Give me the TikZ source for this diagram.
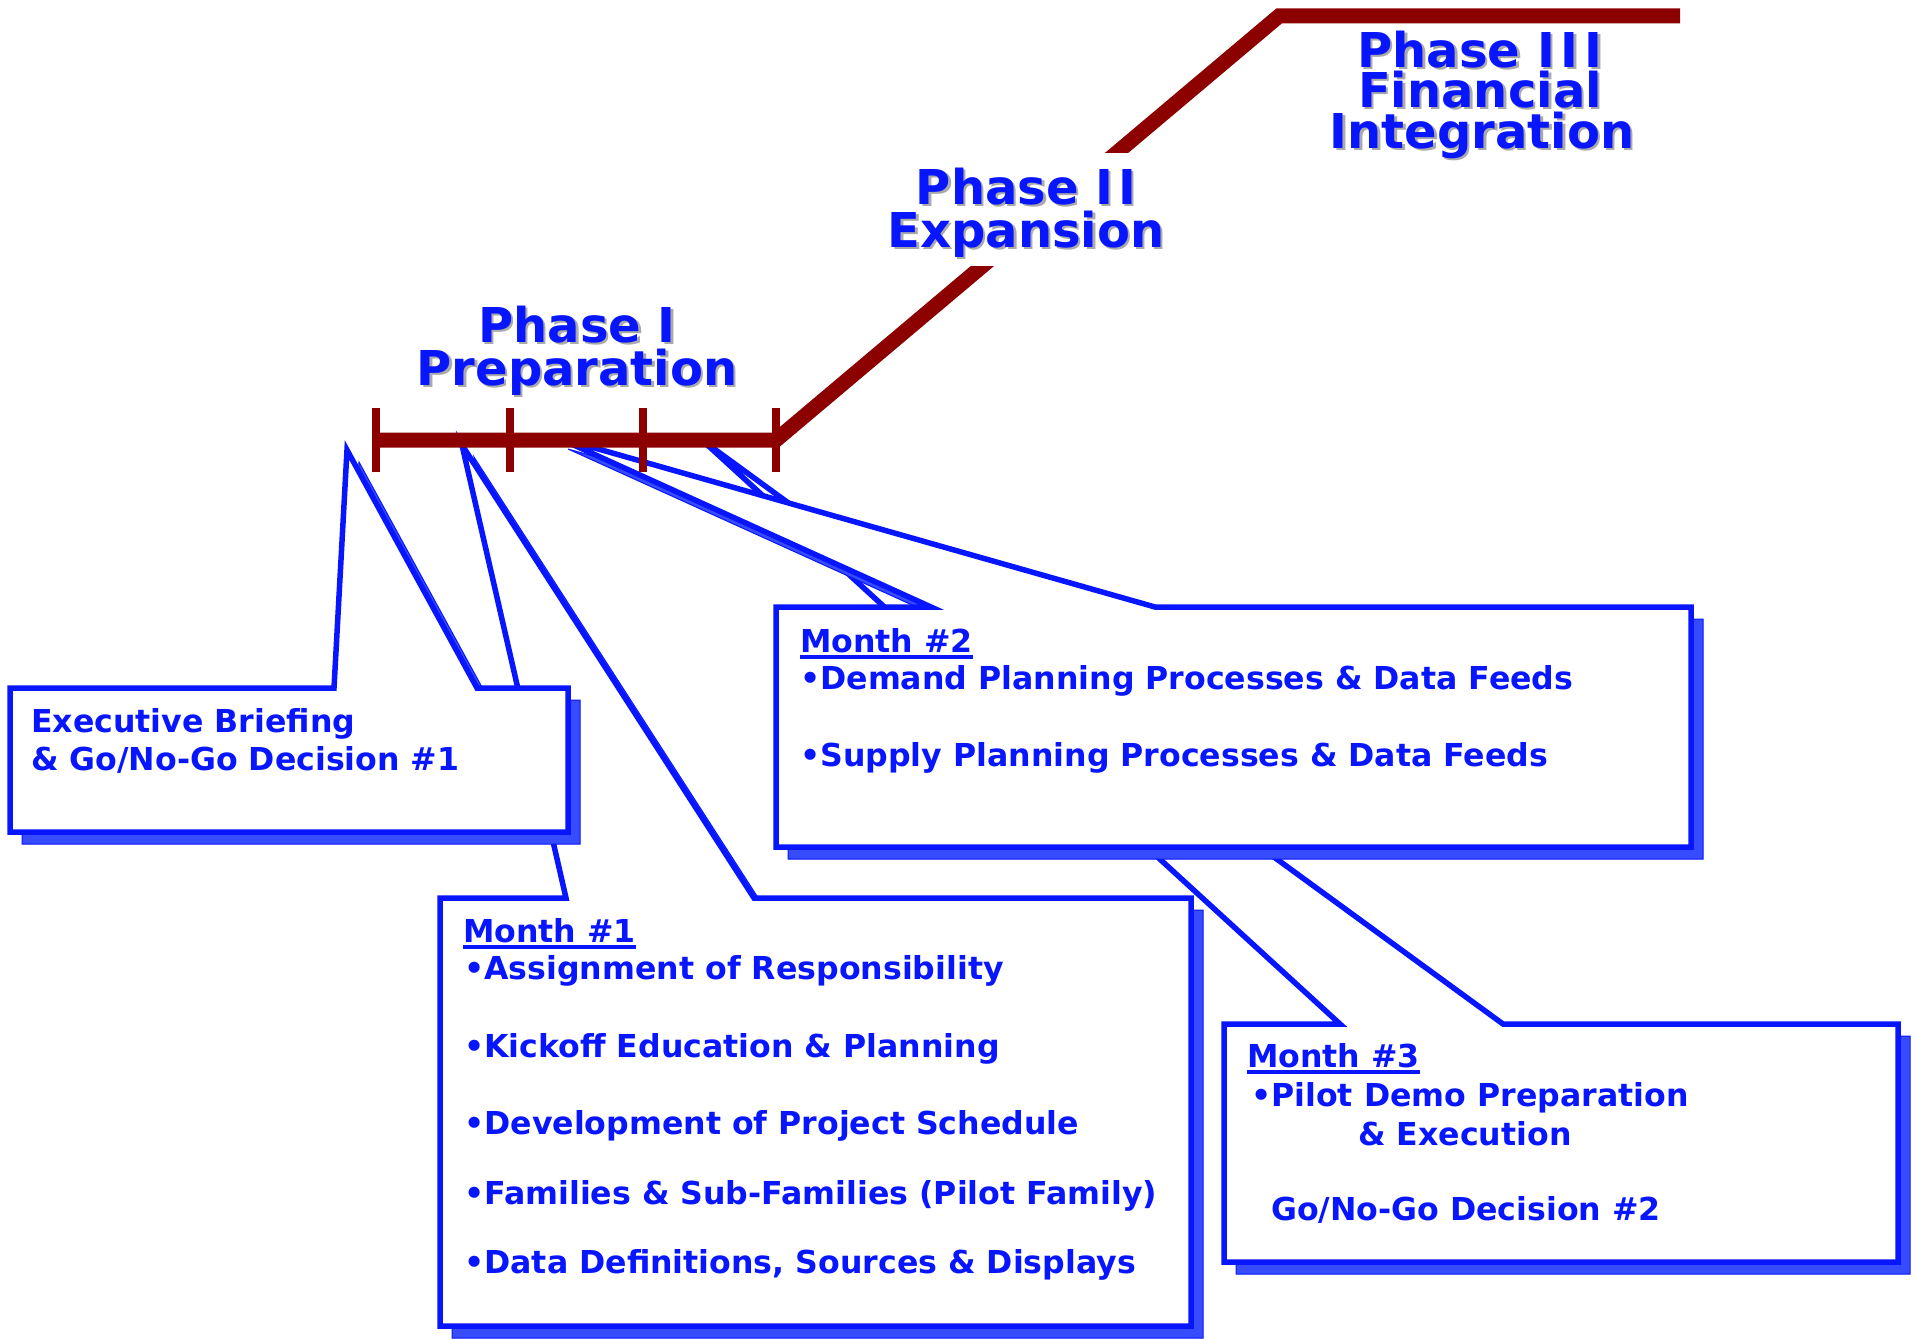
\documentclass[tikz,border=0pt]{standalone}
\usepackage{fontspec}
\setmainfont{DejaVu Sans}
\definecolor{calloutblue}{RGB}{8,22,255}
\definecolor{shadowblue}{RGB}{55,75,255}
\definecolor{barred}{RGB}{140,0,0}
\definecolor{labelshade}{RGB}{170,170,170}
\tikzset{
  calloutbox/.style={draw=calloutblue, fill=white, line width=5.5pt},
  calloutshadow/.style={fill=shadowblue, draw=calloutblue, line width=1pt},
  boxtext/.style={anchor=base west, inner sep=0pt, text=calloutblue,
      font=\bfseries\fontsize{31.6}{37}\selectfont},
  phasetext/.style={anchor=base, inner sep=0pt, text=calloutblue,
      font=\bfseries\fontsize{48}{52}\selectfont},
  timeline/.style={draw=barred, line width=15pt, line join=miter},
  tickmark/.style={draw=barred, line width=8pt},
  monthrule/.style={draw=calloutblue, line width=3.5pt}
}
% callout outlines: box with a wedge rising from its top edge
\newcommand\shapeA{(10,688) -- (334,688) -- (tipA) -- (477,688) -- (568,688) -- (568,832) -- (10,832) -- cycle}
\newcommand\shapeB{(440,898) -- (566,898) -- (tipB) -- (754,898) -- (1191,898) -- (1191,1326) -- (440,1326) -- cycle}
\newcommand\shapeC{(776,607) -- (931,607) -- (tipC) -- (1155,607) -- (1691,607) -- (1691,847) -- (776,847) -- cycle}
\newcommand\shapeD{(1224,1024) -- (1340,1024) -- (tipD) -- (1503,1024) -- (1898,1024) -- (1898,1262) -- (1224,1262) -- cycle}
% text with a grey drop shade set behind it
\newcommand\shadedtext[1]{%
  \makebox[0pt][l]{\kern2.5pt\raisebox{-2.5pt}{\color{labelshade}#1}}#1}
\newcommand\phaseline[3]{%
  \node[phasetext] (#1) at (#2) {\shadedtext{#3}};}
\newcommand\monthhead[3]{%
  \node[boxtext] (#1) at (#2) {#3};
  \draw[monthrule] ([yshift=-5pt]#1.base west) -- ([yshift=-5pt]#1.base east);}
\begin{document}
\begin{tikzpicture}[x=1pt,y=-1pt]
\useasboundingbox (0,0) rectangle (1916,1338);

% wedge tips, tucked under the timeline bar
\coordinate (tipA) at (347,450);
\coordinate (tipB) at (462,445);
\coordinate (tipC) at (556,437);
\coordinate (tipD) at (702,440);

% Month #3
\begin{scope}[transform canvas={shift={(12,12)}}]
  \draw[calloutshadow] \shapeD;
\end{scope}
\draw[calloutbox] \shapeD;
\monthhead{m3}{1247,1067}{Month \#3}
\node[boxtext] (m3a) at (1251,1106) {•Pilot Demo Preparation};
\node[boxtext] (m3b) at (1358,1145) {\& Execution};
\node[boxtext] (m3c) at (1271,1220) {Go/No-Go Decision \#2};

% Month #2
\begin{scope}[transform canvas={shift={(12,12)}}]
  \draw[calloutshadow] \shapeC;
\end{scope}
\draw[calloutbox] \shapeC;
\monthhead{m2}{800,652}{Month \#2}
\node[boxtext] (m2a) at (800,689) {•Demand Planning Processes \& Data Feeds};
\node[boxtext] (m2b) at (800,766) {•Supply Planning Processes \& Data Feeds};

% Month #1
\begin{scope}[transform canvas={shift={(12,12)}}]
  \draw[calloutshadow] \shapeB;
\end{scope}
\draw[calloutbox] \shapeB;
\monthhead{m1}{463,942}{Month \#1}
\node[boxtext] (m1a) at (464,979) {•Assignment of Responsibility};
\node[boxtext] (m1b) at (464,1057) {•Kickoff Education \& Planning};
\node[boxtext] (m1c) at (464,1134) {•Development of Project Schedule};
\node[boxtext] (m1d) at (464,1204) {•Families \& Sub-Families (Pilot Family)};
\node[boxtext] (m1e) at (464,1273) {•Data Definitions, Sources \& Displays};

% Executive briefing
\begin{scope}[transform canvas={shift={(12,12)}}]
  \draw[calloutshadow] \shapeA;
\end{scope}
\draw[calloutbox] \shapeA;
\node[boxtext] (ex1) at (31,732) {Executive Briefing};
\node[boxtext] (ex2) at (31,770) {\& Go/No-Go Decision \#1};

% timeline and phase staircase
\path[timeline] (373,440) -- (776,440) -- (1279,16) -- (1680,16);
\foreach \x in {376,510,643,776}
  \draw[tickmark] (\x,408) -- (\x,472);

% phase titles
\phaseline{p1a}{577,342}{Phase I}
\phaseline{p1b}{577,385}{Preparation}
\fill[white] (888,153) rectangle (1168,266);
\phaseline{p2a}{1026,204}{Phase I\kern5pt I}
\phaseline{p2b}{1026,247}{Expansion}
\phaseline{p3a}{1480,67}{Phase I\kern6pt I\kern6pt I}
\phaseline{p3b}{1480,107}{Financial}
\phaseline{p3c}{1482,148}{Integration}
\end{tikzpicture}
\end{document}
